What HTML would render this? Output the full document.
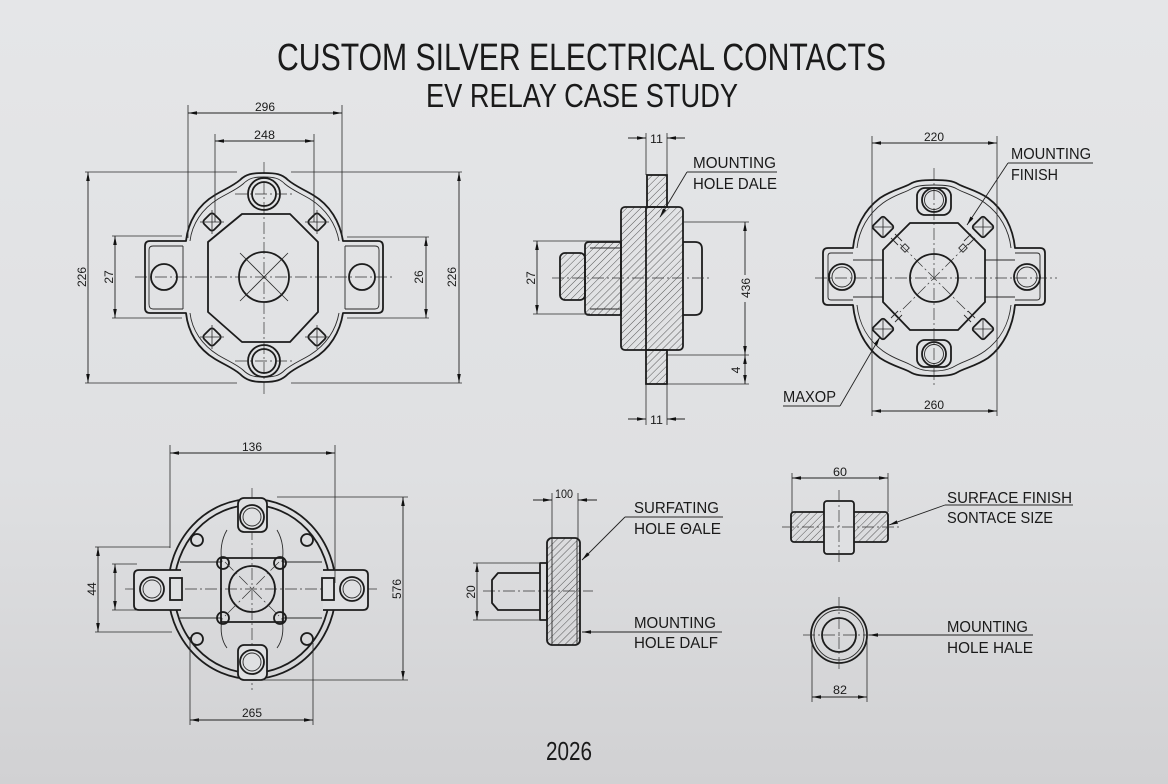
<!DOCTYPE html>
<html><head><meta charset="utf-8"><style>
html,body{margin:0;padding:0;width:1168px;height:784px;overflow:hidden;background:#dedfe1}
svg{display:block}
.o{fill:none;stroke:#1c1c1c;stroke-width:1.8;stroke-linejoin:round}
.ob{fill:#dfe0e2;stroke:#1c1c1c;stroke-width:1.8}
.t{fill:none;stroke:#2a2a2a;stroke-width:0.9}
.d{fill:none;stroke:#222;stroke-width:0.9;marker-start:url(#a);marker-end:url(#a)}
.de{fill:none;stroke:#222;stroke-width:0.9;marker-end:url(#a)}
.e{fill:none;stroke:#2a2a2a;stroke-width:0.8}
.c{fill:none;stroke:#333;stroke-width:0.7;stroke-dasharray:12 3 2 3}
.hz{fill:url(#h);stroke:#1c1c1c;stroke-width:1.8}
text{font-family:"Liberation Sans",sans-serif;fill:#1a1a1a}
.n{font-size:12px}
.l{font-size:16px}
</style></head><body>
<svg width="1168" height="784" viewBox="0 0 1168 784" xmlns="http://www.w3.org/2000/svg">
<defs>
<linearGradient id="bg" x1="0" y1="0" x2="0" y2="1"><stop offset="0" stop-color="#e5e6e8"/><stop offset="0.6" stop-color="#dfe0e2"/><stop offset="1" stop-color="#d1d1d3"/></linearGradient>
<pattern id="h" width="5" height="5" patternUnits="userSpaceOnUse" patternTransform="rotate(45)"><line x1="0" y1="0" x2="0" y2="5" stroke="#333" stroke-width="0.8"/></pattern>
<marker id="a" viewBox="0 0 10 4" refX="10" refY="2" markerWidth="9" markerHeight="3.6" markerUnits="userSpaceOnUse" orient="auto-start-reverse"><path d="M0,0L10,2L0,4z" fill="#111"/></marker>
</defs>
<rect width="1168" height="784" fill="url(#bg)"/>

<!-- TITLES -->
<text x="277" y="70" font-size="38" textLength="609" lengthAdjust="spacingAndGlyphs">CUSTOM SILVER ELECTRICAL CONTACTS</text>
<text x="426" y="107" font-size="33" textLength="312" lengthAdjust="spacingAndGlyphs">EV RELAY CASE STUDY</text>
<text x="546" y="760" font-size="26" textLength="46" lengthAdjust="spacingAndGlyphs">2026</text>

<!-- ===== TOP LEFT ===== -->
<g>
<line class="c" x1="264" y1="162" x2="264" y2="395"/>
<line class="c" x1="135" y1="277" x2="393" y2="277"/>
<path class="o" d="M186,241 C188,222 198,205 215,195 C225,189 233,186 240,180 C246,174 252,173 264,173 C276,173 282,174 288,180 C295,186 303,189 313,195 C330,205 340,222 343,241 L378,241 Q383,241 383,246 L383,308 Q383,313 378,313 L343,313 C340,332 330,349 313,359 C303,365 295,368 288,374 C282,380 276,382 264,382 C252,382 246,380 240,374 C233,368 225,365 215,359 C198,349 188,332 186,313 L150,313 Q145,313 145,308 L145,246 Q145,241 150,241 Z"/>
<path class="t" stroke-width="1.2" d="M190,241 C192,224 202,209 218,199 C228,193 236,190 243,184 C249,178 254,177 264,177 C274,177 279,178 285,184 C292,190 300,193 310,199 C326,209 336,224 339,241"/>
<path class="t" stroke-width="1.2" d="M190,313 C192,330 202,345 218,355 C228,361 236,364 243,370 C249,376 254,377 264,377 C274,377 279,376 285,370 C292,364 300,361 310,355 C326,345 336,330 339,313"/>
<path class="t" stroke-width="1.2" d="M183,246 L153,246 Q149,246 149,250 L149,304 Q149,309 153,309 L183,309 M183,246 L183,309"/>
<path class="t" stroke-width="1.2" d="M345,246 L375,246 Q379,246 379,250 L379,304 Q379,309 375,309 L345,309 M345,246 L345,309"/>
<circle class="o" cx="164" cy="277" r="13"/>
<circle class="o" cx="362" cy="277" r="13"/>
<circle class="o" cx="264" cy="194" r="16"/>
<circle class="o" cx="264" cy="194" r="12"/>
<circle class="o" cx="264" cy="361" r="16"/>
<circle class="o" cx="264" cy="361" r="12"/>
<line class="c" x1="235" y1="194" x2="293" y2="194"/>
<line class="c" x1="235" y1="361" x2="293" y2="361"/>
<polygon class="o" points="242,214 290,214 318,242 318,312 290,342 242,342 208,312 208,242"/>
<circle class="o" cx="264" cy="277" r="25"/>
<line class="e" x1="240" y1="253" x2="288" y2="301"/>
<line class="e" x1="288" y1="253" x2="240" y2="301"/>
<g class="o" stroke-width="2">
<rect x="205" y="215" width="14" height="14" rx="3" transform="rotate(45 212 222)"/>
<rect x="310" y="215" width="14" height="14" rx="3" transform="rotate(45 317 222)"/>
<rect x="205" y="330" width="14" height="14" rx="3" transform="rotate(45 212 337)"/>
<rect x="310" y="330" width="14" height="14" rx="3" transform="rotate(45 317 337)"/>
</g>
<g class="e">
<line x1="200" y1="222" x2="224" y2="222"/><line x1="212" y1="210" x2="212" y2="234"/>
<line x1="305" y1="222" x2="329" y2="222"/><line x1="317" y1="210" x2="317" y2="234"/>
<line x1="200" y1="337" x2="224" y2="337"/><line x1="212" y1="325" x2="212" y2="349"/>
<line x1="305" y1="337" x2="329" y2="337"/><line x1="317" y1="325" x2="317" y2="349"/>
</g>
<!-- dims -->
<line class="e" x1="188" y1="105" x2="188" y2="238"/>
<line class="e" x1="342" y1="105" x2="342" y2="238"/>
<line class="d" x1="188" y1="113" x2="342" y2="113"/>
<text class="n" x="255" y="111" textLength="20" lengthAdjust="spacingAndGlyphs">296</text>
<line class="e" x1="215" y1="134" x2="215" y2="222"/>
<line class="e" x1="314" y1="134" x2="314" y2="222"/>
<line class="d" x1="215" y1="141" x2="314" y2="141"/>
<text class="n" x="254" y="139" textLength="21" lengthAdjust="spacingAndGlyphs">248</text>
<line class="e" x1="85" y1="172" x2="237" y2="172"/>
<line class="e" x1="291" y1="172" x2="462" y2="172"/>
<line class="e" x1="85" y1="383" x2="237" y2="383"/>
<line class="e" x1="291" y1="383" x2="462" y2="383"/>
<line class="d" x1="88" y1="172" x2="88" y2="383"/>
<line class="d" x1="459" y1="172" x2="459" y2="383"/>
<text class="n" transform="translate(86,277) rotate(-90)" text-anchor="middle">226</text>
<text class="n" transform="translate(456,277) rotate(-90)" text-anchor="middle">226</text>
<line class="e" x1="112" y1="236" x2="182" y2="236"/>
<line class="e" x1="112" y1="318" x2="182" y2="318"/>
<line class="d" x1="115" y1="236" x2="115" y2="318"/>
<text class="n" transform="translate(113,277) rotate(-90)" text-anchor="middle">27</text>
<line class="e" x1="347" y1="237" x2="429" y2="237"/>
<line class="e" x1="347" y1="318" x2="429" y2="318"/>
<line class="d" x1="426" y1="237" x2="426" y2="318"/>
<text class="n" transform="translate(423,277) rotate(-90)" text-anchor="middle">26</text>
</g>

<!-- ===== TOP MIDDLE ===== -->
<g>
<rect class="hz" x="647" y="175" width="20" height="32"/>
<rect class="hz" x="646" y="350" width="21" height="34"/>
<path class="hz" d="M585,246 Q585,242 589,242 L621,242 L621,315 L589,315 Q585,315 585,311 Z"/>
<rect class="hz" x="560" y="253" width="25" height="47" rx="5"/>
<rect class="hz" x="621" y="207" width="62" height="143" rx="4"/>
<line class="o" x1="646" y1="207" x2="646" y2="350"/>
<line class="t" x1="590" y1="248" x2="621" y2="248"/>
<line class="t" x1="590" y1="309" x2="621" y2="309"/>
<path class="o" d="M683,242 L695,242 Q702,242 702,249 L702,308 Q702,315 695,315 L683,315"/>
<line class="c" x1="552" y1="278" x2="710" y2="278"/>
<!-- 11 top -->
<line class="e" x1="646" y1="133" x2="646" y2="175"/>
<line class="e" x1="667" y1="133" x2="667" y2="175"/>
<line class="de" x1="628" y1="138" x2="646" y2="138"/>
<line class="de" x1="685" y1="138" x2="667" y2="138"/>
<text class="n" x="650" y="143" textLength="13" lengthAdjust="spacingAndGlyphs">11</text>
<!-- 11 bottom -->
<line class="e" x1="646" y1="384" x2="646" y2="425"/>
<line class="e" x1="667" y1="384" x2="667" y2="425"/>
<line class="de" x1="628" y1="419" x2="646" y2="419"/>
<line class="de" x1="685" y1="419" x2="667" y2="419"/>
<text class="n" x="650" y="424" textLength="13" lengthAdjust="spacingAndGlyphs">11</text>
<!-- 27 -->
<line class="e" x1="533" y1="241" x2="620" y2="241"/>
<line class="e" x1="533" y1="314" x2="590" y2="314"/>
<line class="d" x1="537" y1="241" x2="537" y2="314"/>
<text class="n" transform="translate(535,278) rotate(-90)" text-anchor="middle">27</text>
<!-- 436 / 4 -->
<line class="e" x1="683" y1="222" x2="749" y2="222"/>
<line class="e" x1="667" y1="355" x2="749" y2="355"/>
<line class="e" x1="667" y1="384" x2="749" y2="384"/>
<line class="de" x1="745" y1="275" x2="745" y2="222"/>
<line class="de" x1="745" y1="302" x2="745" y2="355"/>
<text class="n" transform="translate(750,288) rotate(-90)" text-anchor="middle">436</text>
<line class="de" x1="745" y1="370" x2="745" y2="355"/>
<line class="de" x1="745" y1="370" x2="745" y2="384"/>
<text class="n" font-size="9" transform="translate(740,370) rotate(-90)" text-anchor="middle">4</text>
<!-- leader -->
<line class="t" x1="687" y1="172" x2="777" y2="172"/>
<line class="de" x1="687" y1="172" x2="660" y2="217"/>
<text class="l" x="693" y="168" textLength="83" lengthAdjust="spacingAndGlyphs">MOUNTING</text>
<text class="l" x="693" y="189" textLength="84" lengthAdjust="spacingAndGlyphs">HOLE DALE</text>
</g>

<!-- ===== TOP RIGHT ===== -->
<g>
<line class="c" x1="815" y1="278" x2="1057" y2="278"/>
<line class="c" x1="934" y1="168" x2="934" y2="385"/>
<path class="o" d="M853,248 C855,228 864,210 880,198 C892,190 903,188 910,184 C915,181 921,180 934,180 C947,180 953,181 958,184 C965,188 976,190 988,198 C1004,210 1013,228 1015,248 L1040,248 Q1045,248 1045,253 L1045,300 Q1045,305 1040,305 L1015,305 C1013,326 1004,346 988,358 C976,366 965,368 958,372 C953,375 947,376 934,376 C921,376 915,375 910,372 C903,368 892,366 880,358 C864,346 855,326 853,305 L828,305 Q823,305 823,300 L823,253 Q823,248 828,248 Z"/>
<path class="t" stroke-width="1.2" d="M857,248 C859,230 868,214 883,203 C894,195 904,193 911,189 C916,186 922,185 934,185 C946,185 952,186 957,189 C964,193 974,195 985,203 C1000,214 1009,230 1011,248"/>
<path class="t" stroke-width="1.2" d="M857,305 C859,324 868,340 883,351 C894,359 904,361 911,365 C916,368 922,371 934,371 C946,371 952,368 957,365 C964,361 974,359 985,351 C1000,340 1009,324 1011,305"/>
<path class="t" stroke-width="1.2" d="M853,253 L831,253 Q828,253 828,256 L828,297 Q828,300 831,300 L853,300"/>
<path class="t" stroke-width="1.2" d="M1015,253 L1037,253 Q1040,253 1040,256 L1040,297 Q1040,300 1037,300 L1015,300"/>
<line class="t" x1="853" y1="260" x2="883" y2="260"/>
<line class="t" x1="853" y1="297" x2="883" y2="297"/>
<line class="t" x1="985" y1="260" x2="1015" y2="260"/>
<line class="t" x1="985" y1="297" x2="1015" y2="297"/>
<circle class="o" cx="842" cy="277" r="13"/><circle class="t" cx="842" cy="277" r="10" stroke-width="1.3"/>
<circle class="o" cx="1027" cy="277" r="13"/><circle class="t" cx="1027" cy="277" r="10" stroke-width="1.3"/>
<rect class="o" x="917" y="188" width="34" height="27" rx="8"/>
<circle class="o" cx="934" cy="200" r="12"/><circle class="t" cx="934" cy="200" r="9.5" stroke-width="1.3"/>
<rect class="o" x="917" y="340" width="34" height="27" rx="8"/>
<circle class="o" cx="934" cy="354" r="12"/><circle class="t" cx="934" cy="354" r="9.5" stroke-width="1.3"/>
<polygon class="o" points="910,223 958,223 985,250 985,302 958,330 910,330 883,302 883,250"/>
<circle class="o" cx="934" cy="278" r="24"/>
<line class="c" x1="900" y1="244" x2="968" y2="312"/>
<line class="c" x1="968" y1="244" x2="900" y2="312"/>
<g class="o" stroke-width="2.2">
<rect x="875" y="219" width="16" height="16" rx="2.5" transform="rotate(45 883 227)"/>
<rect x="975" y="219" width="16" height="16" rx="2.5" transform="rotate(45 983 227)"/>
<rect x="875" y="321" width="16" height="16" rx="2.5" transform="rotate(45 883 329)"/>
<rect x="975" y="321" width="16" height="16" rx="2.5" transform="rotate(45 983 329)"/>
</g>
<g class="e">
<line x1="872" y1="227" x2="894" y2="227"/><line x1="883" y1="216" x2="883" y2="238"/>
<line x1="972" y1="227" x2="994" y2="227"/><line x1="983" y1="216" x2="983" y2="238"/>
<line x1="872" y1="329" x2="894" y2="329"/><line x1="883" y1="318" x2="883" y2="340"/>
<line x1="972" y1="329" x2="994" y2="329"/><line x1="983" y1="318" x2="983" y2="340"/>
</g>
<g class="t" stroke-width="1.1">
<line x1="891" y1="238" x2="898" y2="245"/><line x1="895" y1="234" x2="902" y2="241"/>
<line x1="975" y1="238" x2="968" y2="245"/><line x1="971" y1="234" x2="964" y2="241"/>
<line x1="891" y1="318" x2="898" y2="311"/><line x1="895" y1="322" x2="902" y2="315"/>
<line x1="975" y1="318" x2="968" y2="311"/><line x1="971" y1="322" x2="964" y2="315"/>
</g>
<rect class="t" x="902" y="245" width="6" height="6" transform="rotate(45 905 248)"/>
<rect class="t" x="960" y="245" width="6" height="6" transform="rotate(45 963 248)"/>
<!-- dims -->
<line class="e" x1="872" y1="136" x2="872" y2="416"/>
<line class="e" x1="997" y1="136" x2="997" y2="416"/>
<line class="d" x1="872" y1="143" x2="997" y2="143"/>
<text class="n" x="924" y="141" textLength="20" lengthAdjust="spacingAndGlyphs">220</text>
<line class="d" x1="872" y1="411" x2="997" y2="411"/>
<text class="n" x="924" y="409" textLength="20" lengthAdjust="spacingAndGlyphs">260</text>
<!-- leaders -->
<line class="t" x1="1008" y1="163" x2="1093" y2="163"/>
<line class="de" x1="1008" y1="163" x2="967" y2="225"/>
<text class="l" x="1011" y="159" textLength="80" lengthAdjust="spacingAndGlyphs">MOUNTING</text>
<text class="l" x="1011" y="180" textLength="47" lengthAdjust="spacingAndGlyphs">FINISH</text>
<line class="t" x1="783" y1="406" x2="840" y2="406"/>
<line class="de" x1="840" y1="406" x2="880" y2="337"/>
<text class="l" x="783" y="402" textLength="53" lengthAdjust="spacingAndGlyphs">MAXOP</text>
</g>

<!-- ===== BOTTOM LEFT ===== -->
<g>
<line class="c" x1="125" y1="589" x2="380" y2="589"/>
<line class="c" x1="252" y1="488" x2="252" y2="690"/>
<ellipse class="o" cx="252" cy="589" rx="84" ry="90"/>
<ellipse class="o" cx="252" cy="589" rx="78" ry="84" stroke-width="1.5"/>
<path class="ob" d="M181,570 L139,570 Q134,570 134,575 L134,605 Q134,610 139,610 L181,610"/>
<rect class="ob" x="170" y="578" width="12" height="22" stroke-width="1.3"/>
<path class="ob" d="M323,570 L363,570 Q368,570 368,575 L368,605 Q368,610 363,610 L323,610"/>
<rect class="ob" x="322" y="578" width="12" height="22" stroke-width="1.3"/>
<circle class="o" cx="152" cy="589" r="12"/><circle class="t" cx="152" cy="589" r="9" stroke-width="1.3"/>
<circle class="o" cx="352" cy="589" r="12"/><circle class="t" cx="352" cy="589" r="9" stroke-width="1.3"/>
<rect class="ob" x="238" y="498" width="29" height="34" rx="6"/>
<circle class="o" cx="252" cy="517" r="12"/><circle class="t" cx="252" cy="517" r="9" stroke-width="1.3"/>
<rect class="ob" x="238" y="645" width="29" height="35" rx="6"/>
<circle class="o" cx="252" cy="662" r="12"/><circle class="t" cx="252" cy="662" r="9" stroke-width="1.3"/>
<g class="t" stroke-width="1.3">
<path d="M227,530 C221,540 220,552 222,562"/>
<path d="M277,530 C283,540 284,552 282,562"/>
<path d="M222,618 C220,630 221,640 227,648"/>
<path d="M282,618 C284,630 283,640 277,648"/>
<line x1="180" y1="562" x2="222" y2="562"/><line x1="180" y1="618" x2="222" y2="618"/>
<line x1="283" y1="562" x2="322" y2="562"/><line x1="283" y1="618" x2="322" y2="618"/>
</g>
<rect class="o" x="221" y="558" width="62" height="64" stroke-width="1.4"/>
<g class="o" stroke-width="1.5">
<circle cx="223" cy="563" r="6"/><circle cx="280" cy="563" r="6"/><circle cx="223" cy="618" r="6"/><circle cx="280" cy="618" r="6"/>
<circle cx="197" cy="540" r="6"/><circle cx="307" cy="540" r="6"/><circle cx="197" cy="639" r="6"/><circle cx="307" cy="639" r="6"/>
</g>
<circle class="o" cx="252" cy="589" r="23"/>
<line class="c" x1="225" y1="562" x2="279" y2="616"/>
<line class="c" x1="279" y1="562" x2="225" y2="616"/>
<!-- dims -->
<line class="e" x1="170" y1="445" x2="170" y2="548"/>
<line class="e" x1="335" y1="445" x2="335" y2="583"/>
<line class="d" x1="170" y1="453" x2="335" y2="453"/>
<text class="n" x="242" y="451" textLength="20" lengthAdjust="spacingAndGlyphs">136</text>
<line class="e" x1="277" y1="497" x2="408" y2="497"/>
<line class="e" x1="257" y1="680" x2="408" y2="680"/>
<line class="d" x1="403" y1="497" x2="403" y2="680"/>
<text class="n" transform="translate(401,589) rotate(-90)" text-anchor="middle">576</text>
<line class="e" x1="95" y1="547" x2="170" y2="547"/>
<line class="e" x1="95" y1="632" x2="172" y2="632"/>
<line class="d" x1="98" y1="547" x2="98" y2="632"/>
<line class="e" x1="112" y1="564" x2="137" y2="564"/>
<line class="e" x1="112" y1="610" x2="137" y2="610"/>
<line class="d" x1="115" y1="564" x2="115" y2="610"/>
<text class="n" transform="translate(96,589) rotate(-90)" text-anchor="middle">44</text>
<line class="e" x1="190" y1="637" x2="190" y2="725"/>
<line class="e" x1="313" y1="643" x2="313" y2="725"/>
<line class="d" x1="190" y1="720" x2="313" y2="720"/>
<text class="n" x="242" y="717" textLength="20" lengthAdjust="spacingAndGlyphs">265</text>
</g>

<!-- ===== BOTTOM MIDDLE ===== -->
<g>
<line class="c" x1="483" y1="591" x2="593" y2="591"/>
<path class="o" d="M540,573 L498,573 L492,580 L492,603 L498,610 L540,610"/>
<rect class="o" x="540" y="563" width="7" height="57"/>
<rect class="hz" x="547" y="538" width="33" height="107" rx="5"/>
<line class="t" x1="552" y1="539" x2="552" y2="644" stroke-width="1.2"/>
<line class="t" x1="577" y1="539" x2="577" y2="644" stroke-width="1.2"/>
<line class="e" x1="552" y1="493" x2="552" y2="538"/>
<line class="e" x1="578" y1="493" x2="578" y2="538"/>
<line class="de" x1="533" y1="500" x2="552" y2="500"/>
<line class="de" x1="597" y1="500" x2="578" y2="500"/>
<text class="n" x="555" y="498" textLength="18" lengthAdjust="spacingAndGlyphs">100</text>
<line class="e" x1="473" y1="563" x2="540" y2="563"/>
<line class="e" x1="473" y1="620" x2="540" y2="620"/>
<line class="d" x1="477" y1="563" x2="477" y2="620"/>
<text class="n" transform="translate(475,592) rotate(-90)" text-anchor="middle">20</text>
<line class="t" x1="625" y1="517" x2="723" y2="517"/>
<line class="de" x1="625" y1="517" x2="582" y2="560"/>
<text class="l" x="634" y="513" textLength="85" lengthAdjust="spacingAndGlyphs">SURFATING</text>
<text class="l" x="634" y="534" textLength="87" lengthAdjust="spacingAndGlyphs">HOLE ΘALE</text>
<line class="de" x1="722" y1="632" x2="582" y2="632"/>
<text class="l" x="634" y="628" textLength="82" lengthAdjust="spacingAndGlyphs">MOUNTING</text>
<text class="l" x="634" y="648" textLength="84" lengthAdjust="spacingAndGlyphs">HOLE DALF</text>
</g>

<!-- ===== BOTTOM RIGHT ===== -->
<g>
<rect class="hz" x="791" y="512" width="97" height="30" rx="3"/>
<rect class="ob" x="824" y="501" width="30" height="53" rx="3"/>
<line class="c" x1="782" y1="527" x2="900" y2="527"/>
<line class="c" x1="839" y1="490" x2="839" y2="565"/>
<line class="e" x1="792" y1="473" x2="792" y2="512"/>
<line class="e" x1="888" y1="473" x2="888" y2="512"/>
<line class="d" x1="792" y1="478" x2="888" y2="478"/>
<text class="n" x="833" y="476" textLength="14" lengthAdjust="spacingAndGlyphs">60</text>
<line class="t" x1="945" y1="505" x2="1073" y2="505"/>
<line class="de" x1="945" y1="505" x2="889" y2="525"/>
<text class="l" x="947" y="503" textLength="125" lengthAdjust="spacingAndGlyphs">SURFACE FINISH</text>
<text class="l" x="947" y="523" textLength="106" lengthAdjust="spacingAndGlyphs">SONTACE SIZE</text>
<circle class="o" cx="839" cy="635" r="28"/>
<circle class="t" cx="839" cy="635" r="25" stroke-width="1.3"/>
<circle class="o" cx="839" cy="635" r="17"/>
<line class="c" x1="803" y1="635" x2="873" y2="635"/>
<line class="c" x1="839" y1="597" x2="839" y2="672"/>
<line class="de" x1="1033" y1="635" x2="869" y2="635"/>
<text class="l" x="947" y="632" textLength="81" lengthAdjust="spacingAndGlyphs">MOUNTING</text>
<text class="l" x="947" y="653" textLength="86" lengthAdjust="spacingAndGlyphs">HOLE HALE</text>
<line class="e" x1="812" y1="640" x2="812" y2="702"/>
<line class="e" x1="867" y1="640" x2="867" y2="702"/>
<line class="d" x1="812" y1="697" x2="867" y2="697"/>
<text class="n" x="833" y="694" textLength="14" lengthAdjust="spacingAndGlyphs">82</text>
</g>
</svg>
</body></html>
